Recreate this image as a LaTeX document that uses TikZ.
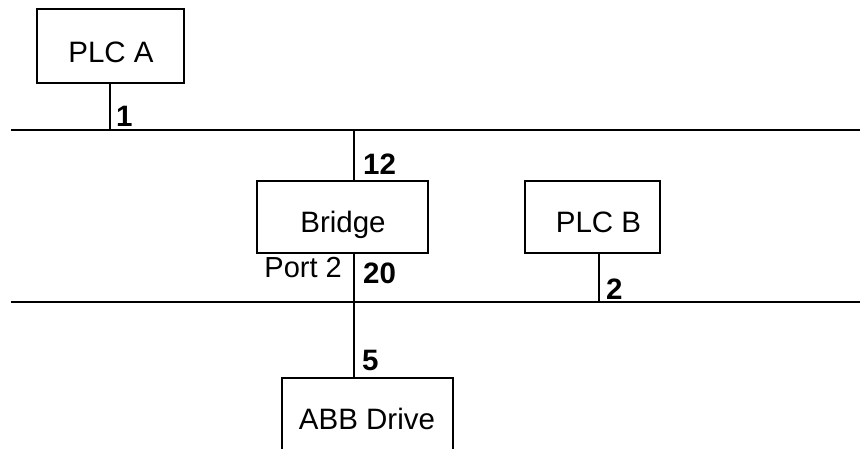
\documentclass[tikz,border=0pt]{standalone}
\usepackage{fontspec}
\setmainfont{Liberation Sans}
\begin{document}
\begin{tikzpicture}[x=1pt,y=-1pt,
  devbox/.style={draw,line width=1.9pt,inner sep=0pt,anchor=north west},
  devtext/.style={inner sep=0pt,anchor=base,font=\fontsize{29.5}{34}\selectfont},
  addr/.style={inner sep=0pt,anchor=base west,font=\fontsize{29.5}{34}\selectfont\bfseries},
  porttext/.style={inner sep=0pt,anchor=base east,font=\fontsize{29}{34}\selectfont},
  wire/.style={line width=1.9pt}]
\useasboundingbox (0,0) rectangle (860,448);
\clip (0,0) rectangle (860,448);
% boxes
\node[devbox,minimum width=147pt,minimum height=74pt] (plca) at (36,8) {};
\node[devbox,minimum width=171pt,minimum height=72pt] (bridge) at (256,180) {};
\node[devbox,minimum width=135pt,minimum height=72pt] (plcb) at (524,180) {};
\node[devbox,minimum width=171pt,minimum height=90pt] (abb) at (281,377) {};
% box texts
\node[devtext] (plcat) at (111,62) {PLC A};
\node[devtext] (bridget) at (343,232) {Bridge};
\node[devtext] (plcbt) at (598.5,232) {PLC B};
\node[devtext] (abbt) at (367,429) {ABB Drive};
% buses
\coordinate (bus1L) at (11,130);
\coordinate (bus1R) at (862,130);
\coordinate (bus2L) at (11,302);
\coordinate (bus2R) at (862,302);
\draw[wire] (bus1L) -- (bus1R);
\draw[wire] (bus2L) -- (bus2R);
% taps
\coordinate (tapA) at (110,130);
\coordinate (tapBr) at (354,130);
\coordinate (tapBr2) at (354,302);
\coordinate (tapB) at (599,302);
\draw[wire] (tapA |- plca.south) -- (tapA);
\draw[wire] (tapBr) -- (tapBr |- bridge.north);
\draw[wire] (tapBr |- bridge.south) -- (tapBr2) -- (tapBr2 |- abb.north);
\draw[wire] (tapB |- plcb.south) -- (tapB);
% addresses
\node[addr] (n1) at (116,126) {1};
\node[addr] (n12) at (363,174) {12};
\node[addr] (n20) at (363,283) {20};
\node[addr] (n2) at (606,299) {2};
\node[addr] (n5) at (362,370) {5};
\node[porttext] (port2) at (342,277) {Port 2};
\end{tikzpicture}
\end{document}
